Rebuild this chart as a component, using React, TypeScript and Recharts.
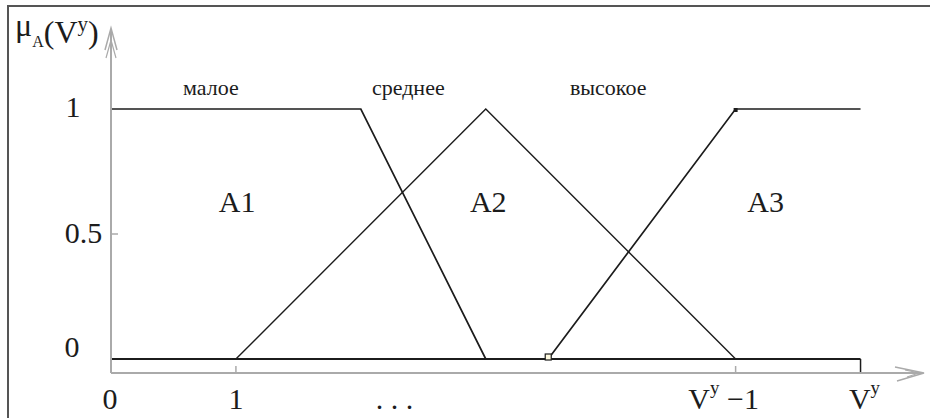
import { LineChart, Line, XAxis, YAxis, ReferenceDot, ReferenceLine } from 'recharts';

// axis ranges (in units of the x/y scales)
const xDomain = [0, 6.5];
const yDomain = [-0.056, 1.316];

const xTicks = [0, 1, 2.27, 5, 6];
const xTickLabels = ['0', '1', '. . .', 'V^y \u22121', 'V^y'];
const yTicks = [0, 0.5, 1];
const yTickLabels = ['0', '0.5', '1'];

// membership functions
const lowX = [0, 2, 3];
const lowY = [1, 1, 0];
const midX = [1, 3, 5];
const midY = [0, 1, 0];
const highX = [3.5, 5, 6];
const highY = [0, 1, 1];
const baseX = [0, 6];
const baseY = [0, 0];

const termNames = ['малое', 'среднее', 'высокое'];
const termX = [0.8, 2.38, 3.98];
const termY = [1.055, 1.055, 1.055];

const setNames = ['A1', 'A2', 'A3'];
const setX = [1.01, 3.02, 5.24];
const setY = [0.59, 0.59, 0.59];

const toPoints = (xs: number[], ys: number[]) => xs.map((x, i) => ({ x, y: ys[i] }));

const SERIF = { fontFamily: "'Liberation Serif', 'DejaVu Serif', serif" };
const AXIS = '#aaaaaa';
const INK = '#1c1c1c';

function SupText({ label, ...rest }: any) {
    if (!label.includes('^')) return <text {...rest}>{label}</text>;
    const [base, tail] = label.split('^');
    return (
        <text {...rest}>
            <tspan>{base}</tspan>
            <tspan dy={-15} fontSize={19}>{tail[0]}</tspan>
            <tspan dy={15}>{tail.slice(1)}</tspan>
        </text>
    );
}

const xTickShift: Record<number, number> = { 0: -1, 1: 0, 2: 0, 3: -12, 4: 4 };

function XTick({ x, y, payload }: any) {
    const i = xTicks.indexOf(payload.value);
    const mark = payload.value === 1 || payload.value === 5;
    return (
        <g>
            {mark && <line x1={x} x2={x} y1={y} y2={y - 7} stroke={AXIS} strokeWidth={1.5} />}
            <SupText
                label={xTickLabels[i]}
                x={x + xTickShift[i]}
                y={y + 36}
                textAnchor="middle"
                fontSize={30}
                style={SERIF}
                fill={INK}
            />
        </g>
    );
}

const yTickDx = [-39, -27.5, -38];
const yTickDy = [-2, 9, 8];

function YTick({ x, y, payload }: any) {
    const i = yTicks.indexOf(payload.value);
    return (
        <g>
            {payload.value === 0.5 && <line x1={x} x2={x + 7} y1={y} y2={y} stroke={AXIS} strokeWidth={1.5} />}
            <text x={x + yTickDx[i]} y={y + yTickDy[i]} textAnchor="middle" fontSize={30} style={SERIF} fill={INK}>
                {yTickLabels[i]}
            </text>
        </g>
    );
}

function YArrow({ cx, cy }: any) {
    return (
        <g>
            <path d={`M${cx - 6},${cy + 20} L${cx},${cy - 2} L${cx + 6},${cy + 20}`} fill="none" stroke={AXIS} strokeWidth={1.5} />
            <path d={`M${cx - 5},${cy + 28} L${cx},${cy + 10} L${cx + 5},${cy + 28}`} fill="none" stroke={AXIS} strokeWidth={1.2} />
            <text x={cx - 96} y={cy + 6} style={SERIF} fill={INK}>
                <tspan fontSize={32}>μ</tspan>
                <tspan fontSize={16} dy={11}>A</tspan>
                <tspan fontSize={32} dy={-4}>(V</tspan>
                <tspan fontSize={21} dy={-12}>y</tspan>
                <tspan fontSize={32} dy={12}>)</tspan>
            </text>
        </g>
    );
}

function XArrow({ cx, cy }: any) {
    return (
        <g>
            <path d={`M${cx - 28},${cy - 6} L${cx + 1},${cy} L${cx - 26},${cy + 8}`} fill="none" stroke={AXIS} strokeWidth={1.5} />
            <path d={`M${cx - 18},${cy - 3} L${cx - 4},${cy} L${cx - 16},${cy + 4}`} fill="none" stroke={AXIS} strokeWidth={1.2} />
        </g>
    );
}

const termLabel = (text: string, size: number) => ({ cx, cy }: any) => (
    <text x={cx} y={cy} textAnchor="middle" fontSize={size} style={SERIF} fill={INK}>
        {text}
    </text>
);

function HighDot({ cx, cy, index }: any) {
    if (index === 0) return <rect key="h0" x={cx - 3} y={cy - 5} width={6} height={6} fill="#fffbe0" stroke={INK} strokeWidth={1.2} />;
    if (index === 1) return <rect key="h1" x={cx - 2} y={cy - 1} width={4} height={4} fill={INK} />;
    return <g key={`h${index}`} />;
}

export default function App() {
    return (
        <div style={{ position: 'absolute', left: 0, top: 0, width: 930, height: 418, background: '#fff' }}>
            <div
                style={{
                    position: 'absolute',
                    left: 7,
                    top: 5,
                    width: 923,
                    height: 413,
                    borderTop: '2px solid #555',
                    borderLeft: '2px solid #555',
                }}
            />
            <div style={{ position: 'absolute', left: 0, top: 0 }}>
                <LineChart width={930} height={418} margin={{ top: 30, right: 7, bottom: 44, left: 110 }}>
                    <XAxis
                        type="number"
                        dataKey="x"
                        domain={xDomain}
                        ticks={xTicks}
                        interval={0}
                        height={1}
                        tickSize={0}
                        tickMargin={0}
                        tickLine={false}
                        axisLine={{ stroke: AXIS, strokeWidth: 2 }}
                        tick={<XTick />}
                    />
                    <YAxis
                        type="number"
                        dataKey="y"
                        domain={yDomain}
                        ticks={yTicks}
                        interval={0}
                        width={1}
                        tickSize={0}
                        tickMargin={0}
                        tickLine={false}
                        axisLine={{ stroke: AXIS, strokeWidth: 2 }}
                        tick={<YTick />}
                    />
                    <Line data={toPoints(baseX, baseY)} dataKey="y" stroke={INK} strokeWidth={2} dot={false} isAnimationActive={false} />
                    <ReferenceLine segment={[{ x: 6, y: 0 }, { x: 6, y: yDomain[0] }]} stroke={INK} strokeWidth={1.5} />
                    <Line data={toPoints(lowX, lowY)} dataKey="y" stroke={INK} strokeWidth={1.7} dot={false} isAnimationActive={false} />
                    <Line data={toPoints(midX, midY)} dataKey="y" stroke={INK} strokeWidth={1.4} dot={false} isAnimationActive={false} />
                    <Line data={toPoints(highX, highY)} dataKey="y" stroke={INK} strokeWidth={1.7} dot={<HighDot />} isAnimationActive={false} />
                    {termNames.map((t, i) => (
                        <ReferenceDot key={t} x={termX[i]} y={termY[i]} r={0} ifOverflow="visible" shape={termLabel(t, 22)} />
                    ))}
                    {setNames.map((t, i) => (
                        <ReferenceDot key={t} x={setX[i]} y={setY[i]} r={0} ifOverflow="visible" shape={termLabel(t, 30)} />
                    ))}
                    <ReferenceDot x={xDomain[0]} y={yDomain[1]} r={0} ifOverflow="visible" shape={<YArrow />} />
                    <ReferenceDot x={xDomain[1]} y={yDomain[0]} r={0} ifOverflow="visible" shape={<XArrow />} />
                </LineChart>
            </div>
        </div>
    );
}
